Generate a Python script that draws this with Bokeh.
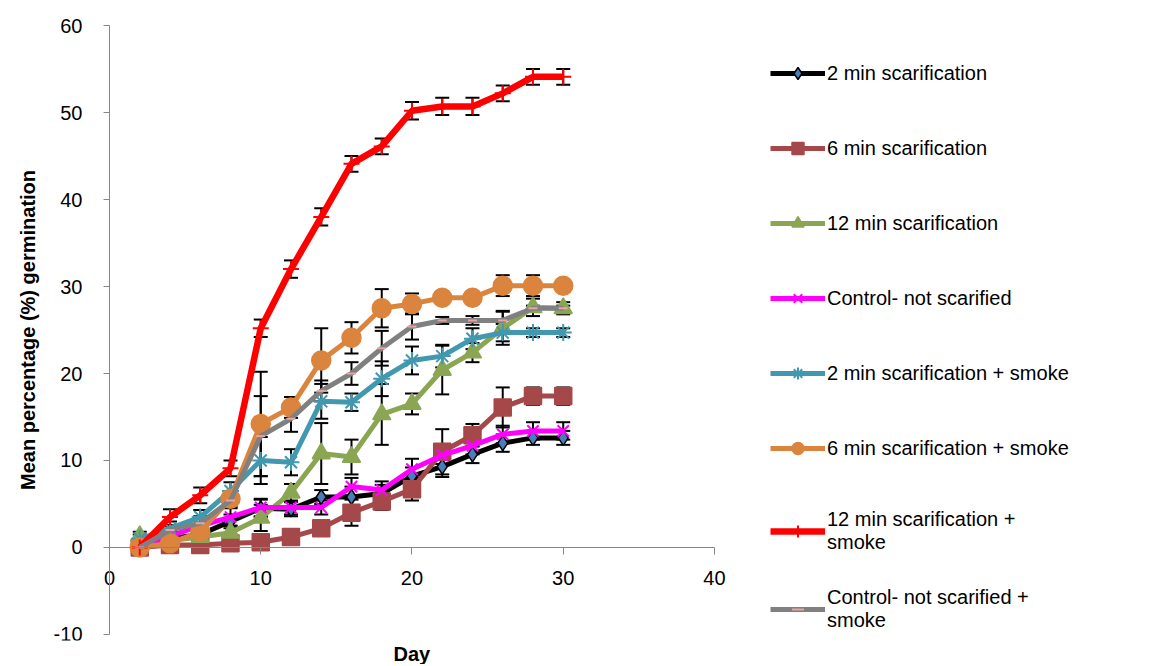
from bokeh.plotting import figure
from bokeh.models import (Range1d, ColumnDataSource, Whisker, TeeHead, Legend, LegendItem,
                          Title, FixedTicker, LinearAxis, PrintfTickFormatter)
from bokeh.embed import file_html
from bokeh.resources import INLINE

days = [2, 4, 6, 8, 10, 12, 14, 16, 18, 20, 22, 24, 26, 28, 30]

labels = [
    "2 min scarification",
    "6 min scarification",
    "12 min scarification",
    "Control- not scarified",
    "2 min scarification + smoke",
    "6 min scarification + smoke",
    "12 min scarification +\nsmoke",
    "Control- not scarified +\nsmoke",
]

s_2min = [0, 1.0, 1.5, 3.0, 4.5, 4.4, 5.8, 5.8, 6.2, 8.2, 9.3, 10.7, 12.0, 12.6, 12.6]
s_6min = [0, 0.3, 0.3, 0.5, 0.6, 1.2, 2.2, 4.0, 5.3, 6.7, 11.0, 12.9, 16.1, 17.4, 17.4]
s_12min = [1.3, 0.8, 1.2, 1.7, 3.4, 6.3, 10.8, 10.4, 15.3, 16.5, 20.4, 22.4, 25.2, 27.6, 27.5]
s_control = [0, 1.3, 2.5, 3.5, 4.6, 4.6, 4.6, 7.0, 6.6, 9.0, 10.6, 11.7, 13.0, 13.4, 13.4]
s_2min_smoke = [1.0, 2.2, 3.5, 6.5, 10.0, 9.8, 16.8, 16.7, 19.4, 21.5, 22.0, 24.0, 24.7, 24.7, 24.7]
s_6min_smoke = [0, 0.5, 1.8, 5.6, 14.2, 16.1, 21.5, 24.1, 27.5, 28.0, 28.7, 28.7, 30.1, 30.1, 30.1]
s_12min_smoke = [0, 3.5, 6.0, 9.1, 25.2, 32.0, 38.0, 44.1, 46.1, 50.2, 50.7, 50.7, 52.2, 54.1, 54.1]
s_control_smoke = [0, 2.0, 2.8, 5.4, 12.8, 14.8, 18.0, 20.0, 22.9, 25.4, 26.1, 26.1, 26.1, 27.5, 27.5]

e_2min = [0, 0.5, 0.5, 0.8, 1.0, 0.8, 0.8, 1.2, 1.0, 1.0, 1.2, 1.0, 1.0, 0.8, 0.8]
e_6min = [0, 0.3, 0.3, 0.3, 0.3, 0.5, 0.8, 1.5, 1.0, 1.3, 2.6, 1.3, 2.3, 1.0, 1.0]
e_12min = [0.5, 0.5, 0.5, 0.8, 1.5, 1.0, 3.5, 2.0, 3.5, 1.2, 2.8, 1.1, 1.9, 1.0, 0.7]
e_control = [0, 0.5, 0.8, 1.0, 1.0, 0.8, 0.8, 1.0, 1.0, 1.2, 1.0, 1.0, 1.0, 1.0, 1.0]
e_2min_smoke = [0.5, 0.8, 0.8, 1.0, 2.7, 1.5, 2.0, 1.0, 2.0, 1.6, 1.3, 1.2, 1.0, 0.5, 0.5]
e_6min_smoke = [0, 0.5, 0.5, 0.8, 6.0, 1.2, 3.7, 1.8, 2.2, 1.2, 0.5, 0.5, 1.2, 1.2, 0.5]
e_12min_smoke = [0, 0.9, 0.9, 0.9, 1.0, 1.0, 1.0, 0.9, 0.9, 1.0, 1.0, 1.0, 0.9, 0.9, 0.9]
e_control_smoke = [0, 0.5, 0.8, 0.8, 4.6, 1.5, 1.2, 1.3, 2.0, 1.5, 0.4, 0.5, 1.1, 0.3, 0.3]

x_ticks = [0, 10, 20, 30, 40]
y_ticks = [-10, 0, 10, 20, 30, 40, 50, 60]

series = [
    (s_2min, e_2min, "#000000", "diamond", "#4A7EBB", "#000000", 15),
    (s_6min, e_6min, "#A5484A", "square", "#A5484A", "#A5484A", 17),
    (s_12min, e_12min, "#8BA653", "triangle", "#8BA653", "#8BA653", 18),
    (s_control, e_control, "#FF00FF", "x", "#FF00FF", "#FF00FF", 16),
    (s_2min_smoke, e_2min_smoke, "#4198AF", "asterisk", "#4198AF", "#4198AF", 17),
    (s_6min_smoke, e_6min_smoke, "#DB843D", "circle", "#DB843D", "#DB843D", 19),
    (s_12min_smoke, e_12min_smoke, "#FF0000", "cross", "#FF0000", "#FF0000", 16),
    (s_control_smoke, e_control_smoke, "#808080", "dash", "#E8A3A3", "#E8A3A3", 9),
]

FONT = "Liberation Sans"

# frame spans page x 0..1150, y 17..640 ; data x 0 -> 109px, 40 -> 714px ; y 60 -> 25px, -10 -> 634px
p = figure(frame_width=1150, frame_height=623, output_backend="svg", toolbar_location=None,
           x_range=Range1d(-7.207, 68.83), y_range=Range1d(-10.69, 60.92),
           x_axis_location=None, y_axis_location=None,
           min_border_left=0, min_border_top=17, min_border_bottom=0, min_border_right=0)
p.outline_line_color = None
p.xgrid.visible = False
p.ygrid.visible = False
p.background_fill_color = "white"


def style_axis(ax):
    ax.axis_line_color = "#868686"
    ax.major_tick_line_color = "#868686"
    ax.major_tick_in = 0
    ax.minor_tick_line_color = None
    ax.major_label_text_font = FONT
    ax.major_label_text_font_size = "20px"
    ax.major_label_text_color = "#000000"
    ax.formatter = PrintfTickFormatter(format="%d")


yaxis = LinearAxis(fixed_location=0, ticker=FixedTicker(ticks=y_ticks), bounds=(-10, 60))
style_axis(yaxis)
yaxis.major_tick_out = 6
yaxis.major_label_standoff = 21
yaxis.axis_label = "Mean percentage (%) germination"
yaxis.axis_label_text_font = FONT
yaxis.axis_label_text_font_size = "20px"
yaxis.axis_label_text_font_style = "bold"
yaxis.axis_label_text_color = "#000000"
yaxis.axis_label_standoff = 12
p.add_layout(yaxis, "left")

xaxis = LinearAxis(fixed_location=0, ticker=FixedTicker(ticks=x_ticks), bounds=(0, 40))
style_axis(xaxis)
xaxis.major_tick_out = 7
xaxis.major_label_standoff = 17
p.add_layout(xaxis, "below")

items = []
for (vals, errs, lcol, marker, fcol, mline, msize), lab in zip(series, labels):
    src = ColumnDataSource(dict(x=days, y=vals,
                                lo=[v - e for v, e in zip(vals, errs)],
                                hi=[v + e for v, e in zip(vals, errs)]))
    w = Whisker(source=src, base="x", lower="lo", upper="hi",
                line_color="black", line_width=2,
                upper_head=TeeHead(size=14, line_color="black", line_width=2),
                lower_head=TeeHead(size=14, line_color="black", line_width=2))
    p.add_layout(w)
    r1 = p.line("x", "y", source=src, line_color=lcol, line_width=5 if marker != "cross" else 6.5)
    r2 = p.scatter("x", "y", source=src, marker=marker, size=msize,
                   fill_color=fcol, line_color=mline,
                   line_width=2 if marker in ("x", "asterisk", "cross", "dash") else 1.5)
    items.append(LegendItem(label=lab, renderers=[r1, r2]))

legend_style = dict(orientation="vertical", margin=0,
                    label_text_font=FONT, label_text_font_size="20px", label_text_color="#000000",
                    glyph_width=55, glyph_height=30, label_height=23, label_standoff=2,
                    spacing=45, padding=0,
                    border_line_color=None, background_fill_alpha=0)

legend_a = Legend(items=items[:7], location=(770, 86), **legend_style)
p.add_layout(legend_a)

legend_b = Legend(items=items[7:], location=(770, 8), **legend_style)
p.add_layout(legend_b)

p.add_layout(Title(text="Day", align="left", offset=393, text_font=FONT, text_font_size="20px",
                   text_font_style="bold", text_color="#000000", standoff=0), "below")

open("out.html", "w").write(file_html(p, INLINE))
